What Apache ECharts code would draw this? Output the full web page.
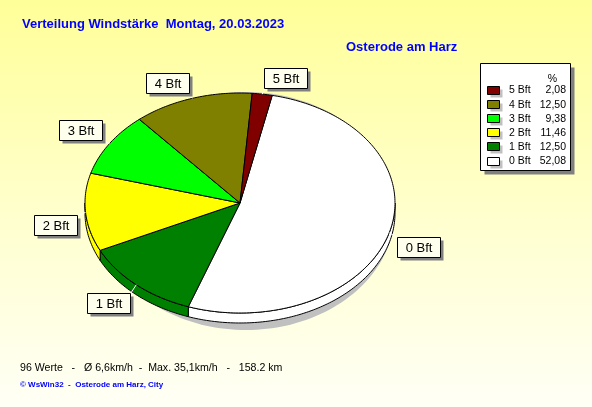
<!DOCTYPE html>
<html><head><meta charset="utf-8">
<script src="https://cdn.jsdelivr.net/npm/echarts@6/dist/echarts.min.js"></script>
<style>html,body{margin:0;padding:0;background:#fff;}#c{width:592px;height:407px;}</style>
</head><body><div id="c"></div>
<script>
// ---- data ----
const categories = ['0 Bft', '1 Bft', '2 Bft', '3 Bft', '4 Bft', '5 Bft'];
const values = [52.08, 12.50, 11.46, 9.38, 12.50, 2.08];
const percentLabels = ['52,08', '12,50', '11,46', '9,38', '12,50', '2,08'];
const colors = ['#ffffff', '#008000', '#ffff00', '#00ff00', '#808000', '#800000'];
const legendOrder = [5, 4, 3, 2, 1, 0];

const titleText = 'Verteilung Windstärke  Montag, 20.03.2023';
const subtitleText = 'Osterode am Harz';
const footerText = '96 Werte   -   Ø 6,6km/h  -  Max. 35,1km/h   -   158.2 km';
const creditText = '© WsWin32  -  Osterode am Harz, City';

// ---- layout ----
const G = { cx: 240, cy: 203, rx: 155, ry: 110, depth: 10, startAngle: 78 };
const FONT = 'Liberation Sans, Arial, sans-serif';

const total = values.reduce((a, b) => a + b, 0);
const spans = [];
(function () {
  let a = G.startAngle;
  values.forEach(v => {
    const b = a - 360 * v / total;
    spans.push([b, a]); // [lo, hi] in math degrees
    a = b;
  });
})();

function pt(a, dy) {
  const r = a * Math.PI / 180;
  return [G.cx + G.rx * Math.cos(r), G.cy - G.ry * Math.sin(r) + (dy || 0)];
}
function arc(lo, hi, dy, reverse) {
  const n = Math.max(2, Math.ceil((hi - lo) / 1));
  const out = [];
  for (let k = 0; k <= n; k++) {
    const a = lo + (hi - lo) * k / n;
    out.push(pt(a, dy));
  }
  return reverse ? out.reverse() : out;
}

function renderShadow() {
  const pts = [];
  for (let k = 0; k < 360; k += 2) {
    const r = k * Math.PI / 180;
    pts.push([G.cx + 6 + 149 * Math.cos(r), G.cy + 8 + 119 * Math.sin(r)]);
  }
  return { type: 'polygon', shape: { points: pts }, style: { fill: '#c0c0c0' }, silent: true };
}

function renderSlice(params, api) {
  const i = params.dataIndex;
  const [lo, hi] = spans[i];
  const children = [];
  // side (visible lower half)
  for (let k = -1; k <= 1; k++) {
    const a0 = Math.max(lo, -180 + 360 * k), a1 = Math.min(hi, 360 * k);
    if (a1 - a0 > 0.01) {
      const pts = arc(a0, a1, 0, false).concat(arc(a0, a1, G.depth, true));
      children.push({ type: 'polygon', shape: { points: pts },
        style: { fill: colors[i], stroke: '#000', lineWidth: 1 } });
    }
  }
  const top = [[G.cx, G.cy]].concat(arc(lo, hi, 0, false));
  children.push({ type: 'polygon', shape: { points: top },
    style: { fill: colors[i], stroke: '#000', lineWidth: 1 } });
  return { type: 'group', children };
}

function renderLabel(params, api) {
  const i = params.dataIndex;
  const [lo, hi] = spans[i];
  const mid = (lo + hi) / 2;
  const r = mid * Math.PI / 180, c = Math.cos(r), s = Math.sin(r);
  const e = pt(mid, 0);
  const bx = e[0] + Math.sign(c) * (22 + 8 * Math.abs(c));
  const by = e[1] + (s > 0 ? -(10 + 6 * s) : (12 + 8 * Math.abs(s)));
  const w = 43, h = 20;
  const x0 = Math.round(bx - w / 2) + 0.5, y0 = Math.round(by - h / 2) + 0.5;
  const nx = Math.min(Math.max(e[0], x0), x0 + w), ny = Math.min(Math.max(e[1], y0), y0 + h);
  return { type: 'group', children: [
    { type: 'line', shape: { x1: e[0], y1: e[1], x2: nx, y2: ny }, style: { stroke: '#ffffff', lineWidth: 1 } },
    { type: 'rect', shape: { x: x0 + 3, y: y0 + 3, width: w, height: h }, style: { fill: '#808080' } },
    { type: 'rect', shape: { x: x0, y: y0, width: w, height: h }, style: { fill: '#ffffee', stroke: '#000', lineWidth: 1 } },
    { type: 'text', x: x0 + w / 2, y: y0 + h / 2 + 1, style: { text: categories[i], fill: '#000',
      font: '13px ' + FONT, align: 'center', verticalAlign: 'middle' } }
  ] };
}

// legend graphic
const L = { x: 480.5, y: 63.5, w: 90, h: 107, rowY0: 90.5, rowDy: 14.2 };
const legendEls = [
  { type: 'rect', shape: { x: L.x + 4, y: L.y + 4, width: L.w, height: L.h }, style: { fill: '#808080' } },
  { type: 'rect', shape: { x: L.x, y: L.y, width: L.w, height: L.h }, style: { fill: '#ffffff', stroke: '#000', lineWidth: 1 } },
  { type: 'text', x: L.x + 72, y: L.y + 16, style: { text: '%', font: '10.5px ' + FONT, fill: '#000', align: 'center', verticalAlign: 'middle' } }
];
legendOrder.forEach((idx, k) => {
  const y = L.rowY0 + k * L.rowDy;
  legendEls.push({ type: 'rect', shape: { x: 490.5, y: Math.round(y - 4) + 2.5, width: 12, height: 8 }, style: { fill: '#c0c0c0' } });
  legendEls.push({ type: 'rect', shape: { x: 487.5, y: Math.round(y - 4) - 0.5, width: 12, height: 8 }, style: { fill: colors[idx], stroke: '#000', lineWidth: 1 } });
  legendEls.push({ type: 'text', x: 509, y: y, style: { text: categories[idx], font: '10.5px ' + FONT, fill: '#000', align: 'left', verticalAlign: 'middle' } });
  legendEls.push({ type: 'text', x: 566, y: y, style: { text: percentLabels[idx], font: '10.5px ' + FONT, fill: '#000', align: 'right', verticalAlign: 'middle' } });
});

const chart = echarts.init(document.getElementById('c'), null, { renderer: 'canvas' });
chart.setOption({
  animation: false,
  backgroundColor: { type: 'linear', x: 0, y: 0, x2: 0, y2: 1,
    colorStops: [{ offset: 0, color: '#ffff99' }, { offset: 0.55, color: '#ffffd0' }, { offset: 1, color: '#fffff6' }] },
  graphic: [
    { type: 'text', left: 22, top: 18, style: { text: titleText, font: 'bold 13px ' + FONT, fill: '#0000ff' } },
    { type: 'text', left: 346, top: 41, style: { text: subtitleText, font: 'bold 13px ' + FONT, fill: '#0000ff' } },
    { type: 'text', left: 20, top: 363, style: { text: footerText, font: '10.6px ' + FONT, fill: '#000' } },
    { type: 'text', left: 20, top: 381, style: { text: creditText, font: 'bold 8px ' + FONT, fill: '#0000ff' } },
    { type: 'group', left: 0, top: 0, children: legendEls, silent: true, z: 10, bounding: 'raw' }
  ],
  series: [
    { type: 'custom', coordinateSystem: 'none', z: 1, silent: true, data: [0], renderItem: renderShadow },
    { type: 'custom', coordinateSystem: 'none', z: 2, silent: true, data: values, renderItem: renderSlice },
    { type: 'custom', coordinateSystem: 'none', z: 3, silent: true, data: values, renderItem: renderLabel }
  ]
});
</script></body></html>
